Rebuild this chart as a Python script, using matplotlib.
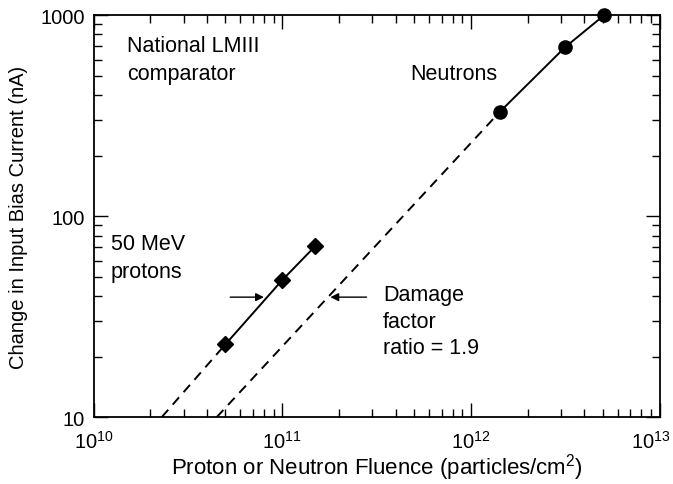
import numpy as np
import matplotlib
matplotlib.use("Agg")
import matplotlib.pyplot as plt
import matplotlib.transforms as mtransforms
from matplotlib.ticker import FixedLocator, LogLocator, NullFormatter

plt.rcParams['font.family'] = ['Liberation Sans', 'DejaVu Sans']
plt.rcParams['mathtext.fontset'] = 'custom'
plt.rcParams['mathtext.rm'] = 'Liberation Sans'
plt.rcParams['mathtext.default'] = 'regular'

# data
proton_fluence = [5.0e10, 1.0e11, 1.5e11]
proton_current = [23, 48, 71]
neutron_fluence = [1.42e12, 3.15e12, 5.1e12]
neutron_current = [329, 690, 1000]

# dashed extrapolations (to the 10 nA floor)
proton_ext_fluence = [2.3e10, 5.0e10]
proton_ext_current = [10, 23]
neutron_ext_fluence = [4.5e10, 1.42e12]
neutron_ext_current = [10, 329]

x_ticks = [1e10, 1e11, 1e12, 1e13]
x_tick_labels = ['$10^{10}$', '$10^{11}$', '$10^{12}$', '$10^{13}$']
y_ticks = [10, 100, 1000]
y_tick_labels = ['10', '100', '1000']

fig = plt.figure(figsize=(6.73, 4.85), dpi=100)
ax = fig.add_axes([0.139, 0.138, 0.841, 0.829])

ax.set_xscale('log')
ax.set_yscale('log')
ax.set_xlim(1e10, 1e13)
ax.set_ylim(10, 1000)

dash = (0, (5, 3.5))
ax.plot(proton_ext_fluence, proton_ext_current, color='black', lw=1.4, linestyle=dash)
ax.plot(neutron_ext_fluence, neutron_ext_current, color='black', lw=1.4, linestyle=dash)
ax.plot(proton_fluence, proton_current, color='black', lw=1.4, marker='D',
        markersize=8.5, clip_on=False)
ax.plot(neutron_fluence, neutron_current, color='black', lw=1.4, marker='o',
        markersize=9.5, clip_on=False, zorder=5)

# damage factor arrows
ax.annotate('', xy=(8.0e10, 39.5), xytext=(5.3e10, 39.5),
            arrowprops=dict(arrowstyle='-|>', color='black', lw=1.0,
                            mutation_scale=12, shrinkA=0, shrinkB=0))
ax.annotate('', xy=(1.8e11, 39.5), xytext=(2.8e11, 39.5),
            arrowprops=dict(arrowstyle='-|>', color='black', lw=1.0,
                            mutation_scale=12, shrinkA=0, shrinkB=0))

fs = 15.5
ax.text(0.059, 0.889, 'National LMIII\ncomparator', transform=ax.transAxes,
        fontsize=fs, va='center', ha='left', linespacing=1.4)
ax.text(0.560, 0.854, 'Neutrons', transform=ax.transAxes, fontsize=fs,
        va='center', ha='left')
ax.text(0.030, 0.397, '50 MeV\nprotons', transform=ax.transAxes, fontsize=fs,
        va='center', ha='left', linespacing=1.4)
ax.text(0.511, 0.238, 'Damage\nfactor\nratio = 1.9', transform=ax.transAxes,
        fontsize=fs, va='center', ha='left', linespacing=1.35)

ax.xaxis.set_major_locator(FixedLocator(x_ticks))
ax.set_xticklabels(x_tick_labels)
ax.xaxis.set_minor_locator(LogLocator(base=10, subs=np.arange(2, 10)))
ax.xaxis.set_minor_formatter(NullFormatter())
ax.yaxis.set_major_locator(FixedLocator(y_ticks))
ax.set_yticklabels(y_tick_labels)
ax.yaxis.set_minor_locator(LogLocator(base=10, subs=np.arange(2, 10)))
ax.yaxis.set_minor_formatter(NullFormatter())

ax.tick_params(which='both', direction='in', top=True, right=True, labelsize=14.5,
               width=1.0)
ax.tick_params(which='major', length=10)
ax.tick_params(which='minor', length=6)
ax.tick_params(axis='x', pad=9)
ax.tick_params(axis='y', pad=6)

# last x label sits against the right edge, as in the original
last = ax.get_xticklabels()[-1]
last.set_transform(last.get_transform() +
                   mtransforms.ScaledTranslation(-9 / 100, 0, fig.dpi_scale_trans))

for s in ax.spines.values():
    s.set_linewidth(1.3)

ax.set_xlabel('Proton or Neutron Fluence (particles/cm$^2$)', fontsize=16, labelpad=0)
ax.set_ylabel('Change in Input Bias Current (nA)', fontsize=14.5, labelpad=9)

fig.savefig('out.png', dpi=100)
